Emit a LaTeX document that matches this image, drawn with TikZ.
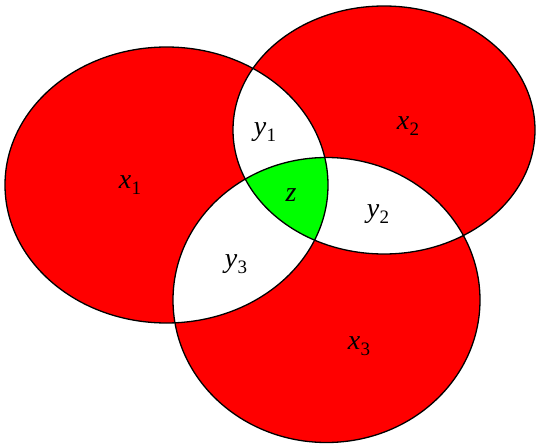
\documentclass[tikz,border=0pt]{standalone}
\usepackage{fontspec}
\setmainfont{Liberation Serif}
\newcommand{\lab}[2]{\textit{#1}\kern0.5pt\raisebox{-6pt}{\fontsize{19}{19}\selectfont #2}}
\tikzset{
  outline/.style={draw=black, line width=1.3pt},
  lbl/.style={font=\fontsize{28}{30}\selectfont, inner sep=0pt}
}
\begin{document}
\begin{tikzpicture}[x=1pt,y=-1pt]
\useasboundingbox (0,0) rectangle (536,447);
\coordinate (c1) at (166.5,185);
\coordinate (c2) at (384,130);
\coordinate (c3) at (326.5,300);
% red sets
\fill[red] (c1) ellipse [x radius=161.5pt, y radius=138pt];
\fill[red] (c2) ellipse [x radius=151pt, y radius=124pt];
\fill[red] (c3) ellipse [x radius=153.5pt, y radius=142.5pt];
% pairwise intersections white
\begin{scope}
  \clip (c1) ellipse [x radius=161.5pt, y radius=138pt];
  \fill[white] (c2) ellipse [x radius=151pt, y radius=124pt];
  \fill[white] (c3) ellipse [x radius=153.5pt, y radius=142.5pt];
\end{scope}
\begin{scope}
  \clip (c2) ellipse [x radius=151pt, y radius=124pt];
  \fill[white] (c3) ellipse [x radius=153.5pt, y radius=142.5pt];
\end{scope}
% triple intersection green
\begin{scope}
  \clip (c1) ellipse [x radius=161.5pt, y radius=138pt];
  \clip (c2) ellipse [x radius=151pt, y radius=124pt];
  \fill[green] (c3) ellipse [x radius=153.5pt, y radius=142.5pt];
\end{scope}
% outlines
\draw[outline] (c1) ellipse [x radius=161.5pt, y radius=138pt];
\draw[outline] (c2) ellipse [x radius=151pt, y radius=124pt];
\draw[outline] (c3) ellipse [x radius=153.5pt, y radius=142.5pt];
% labels
\node[lbl] (lx1) at (130,185) {\lab{x}{1}};
\node[lbl] (lx2) at (408,126) {\lab{x}{2}};
\node[lbl] (lx3) at (359,346) {\lab{x}{3}};
\node[lbl] (ly1) at (265,132) {\lab{y}{1}};
\node[lbl] (ly2) at (378,214) {\lab{y}{2}};
\node[lbl] (ly3) at (236,264) {\lab{y}{3}};
\node[lbl] (lz) at (291,195) {\textit{z}};
\end{tikzpicture}
\end{document}
